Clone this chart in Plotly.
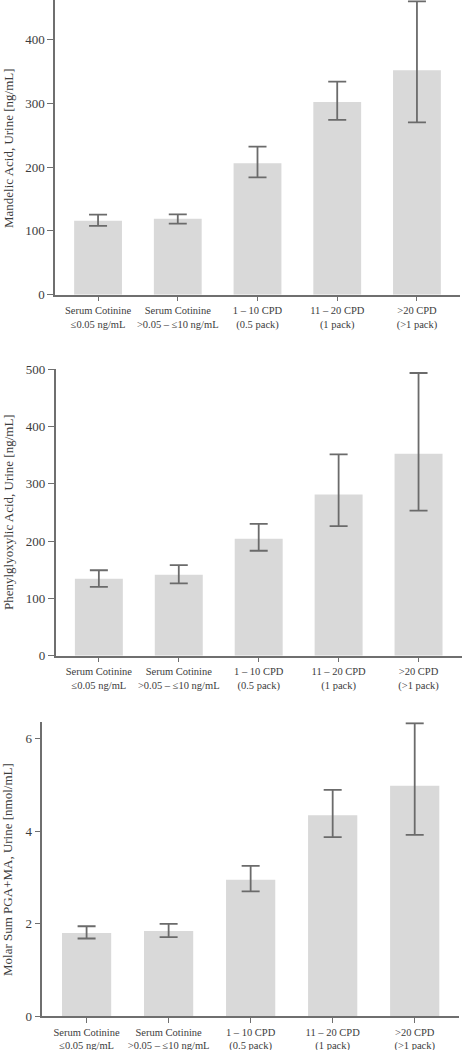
import plotly.graph_objects as go

categories = [
    "Serum Cotinine<br>≤0.05 ng/mL",
    "Serum Cotinine<br>>0.05 – ≤10 ng/mL",
    "1 – 10 CPD<br>(0.5 pack)",
    "11 – 20 CPD<br>(1 pack)",
    ">20 CPD<br>(>1 pack)",
]

# Panel 1: Mandelic acid
ma_mean = [116, 119, 206, 302, 352]
ma_upper = [125.5, 126, 232, 334, 460]
ma_lower = [108, 111.5, 184, 274, 270]

# Panel 2: Phenylglyoxylic acid
pga_mean = [134, 141, 204, 281, 352]
pga_upper = [149, 158, 230, 351, 493]
pga_lower = [120, 126, 183, 226, 253]

# Panel 3: Molar sum PGA+MA
sum_mean = [1.80, 1.84, 2.95, 4.34, 4.98]
sum_upper = [1.945, 1.995, 3.25, 4.89, 6.33]
sum_lower = [1.68, 1.71, 2.70, 3.87, 3.92]

titles = [
    "Mandelic Acid, Urine [ng/mL]",
    "Phenylglyoxylic Acid, Urine [ng/mL]",
    "Molar Sum PGA+MA, Urine [nmol/mL]",
]
yranges = [[0, 462], [0, 500], [0, 6.35]]
ytickvals = [[0, 100, 200, 300, 400], [0, 100, 200, 300, 400, 500], [0, 2, 4, 6]]

W, H = 462, 1050
# pixel geometry of each panel: (x_left, x_right, y_top, y_bottom)
panels = [(55, 460, 0, 294.7), (55.7, 461.7, 369, 655.7), (42.3, 459, 722.3, 1016.3)]
title_y = [148, 512, 870]

FONT = "Liberation Serif"
TXT = "#3c3c3c"
AX = "#6f6f6f"
BAR = "#d9d9d9"
ERR = "#6b6b6b"

fig = go.Figure()
series = [(ma_mean, ma_upper, ma_lower), (pga_mean, pga_upper, pga_lower), (sum_mean, sum_upper, sum_lower)]
layout = {}
annotations = []
for i, ((mean, up, lo), (xl, xr, yt, yb)) in enumerate(zip(series, panels)):
    n = "" if i == 0 else str(i + 1)
    fig.add_trace(go.Bar(
        x=list(range(len(categories))), y=mean,
        marker=dict(color=BAR, line=dict(width=0)),
        error_y=dict(type="data", symmetric=False,
                     array=[u - m for u, m in zip(up, mean)],
                     arrayminus=[m - l for m, l in zip(mean, lo)],
                     color=ERR, thickness=1.8, width=9),
        xaxis="x" + n, yaxis="y" + n, showlegend=False,
        cliponaxis=False,
    ))
    layout["xaxis" + n] = dict(
        domain=[xl / W, xr / W], anchor="y" + n, automargin=False,
        range=[-0.54, 4.54], tickmode="array",
        tickvals=list(range(len(categories))), ticktext=categories,
        showline=True, linecolor=AX, linewidth=1.5,
        ticks="outside", ticklen=5, tickcolor=AX, tickwidth=1.2,
        showgrid=False, zeroline=False,
        tickfont=dict(family=FONT, size=10.5, color=TXT),
    )
    layout["yaxis" + n] = dict(
        domain=[(H - yb) / H, (H - yt) / H], anchor="x" + n, automargin=False,
        range=yranges[i], tickmode="array", tickvals=ytickvals[i],
        showline=True, linecolor=AX, linewidth=1.5,
        ticks="outside", ticklen=6, tickcolor=AX, tickwidth=1.2,
        showgrid=False, zeroline=False,
        tickfont=dict(family=FONT, size=13, color=TXT),
    )
    annotations.append(dict(
        text=titles[i], xref="paper", yref="paper",
        x=8 / W, y=(H - title_y[i]) / H, xanchor="center", yanchor="middle",
        textangle=-90, showarrow=False,
        font=dict(family=FONT, size=13, color=TXT),
    ))

fig.update_layout(
    **layout,
    annotations=annotations,
    width=W, height=H,
    margin=dict(l=0, r=0, t=0, b=0, autoexpand=False),
    paper_bgcolor="white", plot_bgcolor="white",
    bargap=0.4,
    font=dict(family=FONT, color=TXT),
)
fig.write_html(
    "out.html",
    config={"displayModeBar": False},
    post_script="document.body.style.margin='0';document.body.style.overflow='hidden';",
)
